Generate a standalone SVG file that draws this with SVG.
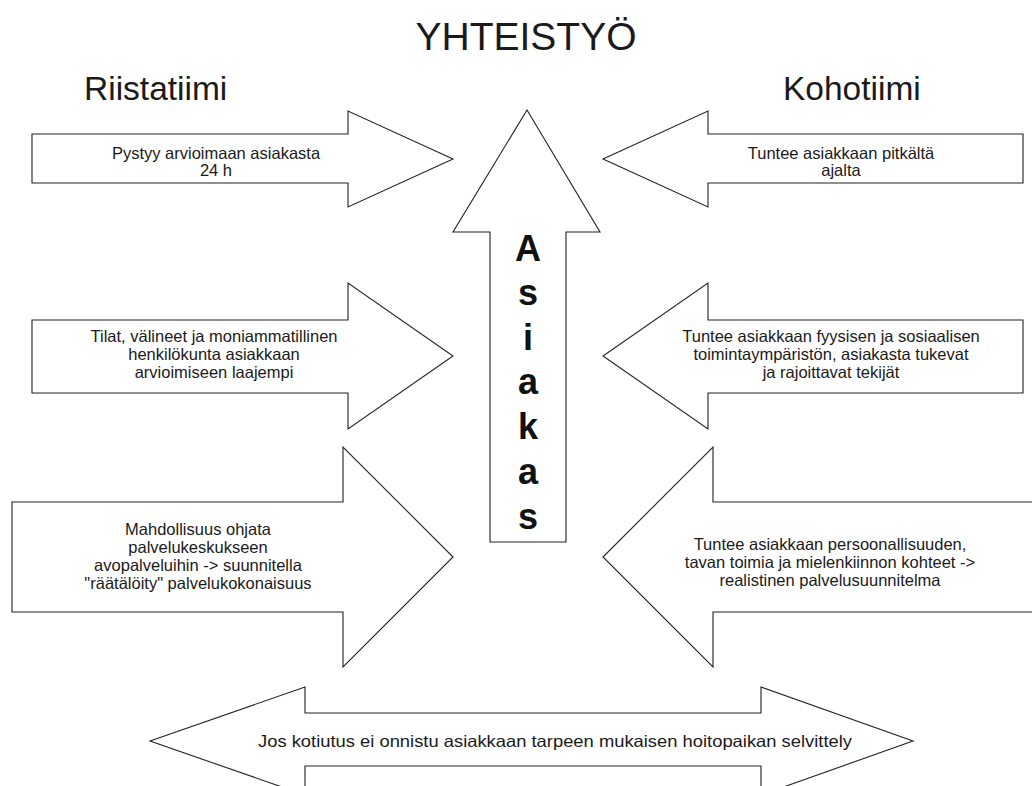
<svg xmlns="http://www.w3.org/2000/svg" width="1032" height="786" viewBox="0 0 1032 786">
<style>
.bg{fill:#ffffff}
.arrow{fill:#ffffff;stroke:#222222;stroke-width:1.1;stroke-linejoin:miter}
.t{font-family:"Liberation Sans",Arial,sans-serif;font-size:16.5px;fill:#1a1a1a;text-anchor:middle}
.h{font-family:"Liberation Sans",Arial,sans-serif;fill:#1a1a1a}
.big{font-family:"Liberation Sans",Arial,sans-serif;font-size:36px;font-weight:bold;fill:#111111;text-anchor:middle}
</style>
<rect class="bg" x="0" y="0" width="1032" height="786"/>
<g id="headings">
<text class="h" x="526" y="50" font-size="39" text-anchor="middle">YHTEISTYÖ</text>
<text class="h" x="84" y="100" font-size="33.5">Riistatiimi</text>
<text class="h" x="783" y="100" font-size="33.5">Kohotiimi</text>
</g>
<g id="connectors"></g>
<g id="asiakas">
<polygon class="arrow" points="527,110 600,232 566,232 566,542 490,542 490,232 453,232"/>
<text class="big" x="528" y="261">A</text>
<text class="big" x="528" y="305">s</text>
<text class="big" x="528" y="350">i</text>
<text class="big" x="528" y="394">a</text>
<text class="big" x="528" y="439">k</text>
<text class="big" x="528" y="484">a</text>
<text class="big" x="528" y="529">s</text>
</g>
<g id="left1">
<polygon class="arrow" points="32,134 348,134 348,111 453,159 348,207 348,183 32,183"/>
<text class="t" x="216" y="159">Pystyy arvioimaan asiakasta</text>
<text class="t" x="216" y="176">24 h</text>
</g>
<g id="right1">
<polygon class="arrow" points="1023,134 708,134 708,111 603,159 708,207 708,183 1023,183"/>
<text class="t" x="841" y="159">Tuntee asiakkaan pitkältä</text>
<text class="t" x="841" y="176">ajalta</text>
</g>
<g id="left2">
<polygon class="arrow" points="32,320 348,320 348,283 453,356 348,429 348,393 32,393"/>
<text class="t" x="214" y="342">Tilat, välineet ja moniammatillinen</text>
<text class="t" x="214" y="360">henkilökunta asiakkaan</text>
<text class="t" x="214" y="378">arvioimiseen laajempi</text>
</g>
<g id="right2">
<polygon class="arrow" points="1023,320 708,320 708,283 603,356 708,429 708,393 1023,393"/>
<text class="t" x="831" y="342">Tuntee asiakkaan fyysisen ja sosiaalisen</text>
<text class="t" x="831" y="360">toimintaympäristön, asiakasta tukevat</text>
<text class="t" x="831" y="378">ja rajoittavat tekijät</text>
</g>
<g id="left3">
<polygon class="arrow" points="12,502 343,502 343,447 453,557 343,667 343,612 12,612"/>
<text class="t" x="198" y="535">Mahdollisuus ohjata</text>
<text class="t" x="198" y="553">palvelukeskukseen</text>
<text class="t" x="198" y="571">avopalveluihin -&gt; suunnitella</text>
<text class="t" x="198" y="589">"räätälöity" palvelukokonaisuus</text>
</g>
<g id="right3">
<polygon class="arrow" points="1040,502 713,502 713,447 603,557 713,667 713,612 1040,612"/>
<text class="t" x="830" y="550">Tuntee asiakkaan persoonallisuuden,</text>
<text class="t" x="830" y="568">tavan toimia ja mielenkiinnon kohteet -&gt;</text>
<text class="t" x="830" y="586">realistinen palvelusuunnitelma</text>
</g>
<g id="bottom">
<polygon class="arrow" points="150,741 305,687 305,713 761,713 761,687 913,741 761,795 761,766 305,766 305,795"/>
<text class="t" x="555" y="747" font-size="17" textLength="594" lengthAdjust="spacingAndGlyphs">Jos kotiutus ei onnistu asiakkaan tarpeen mukaisen hoitopaikan selvittely</text>
</g>
</svg>
